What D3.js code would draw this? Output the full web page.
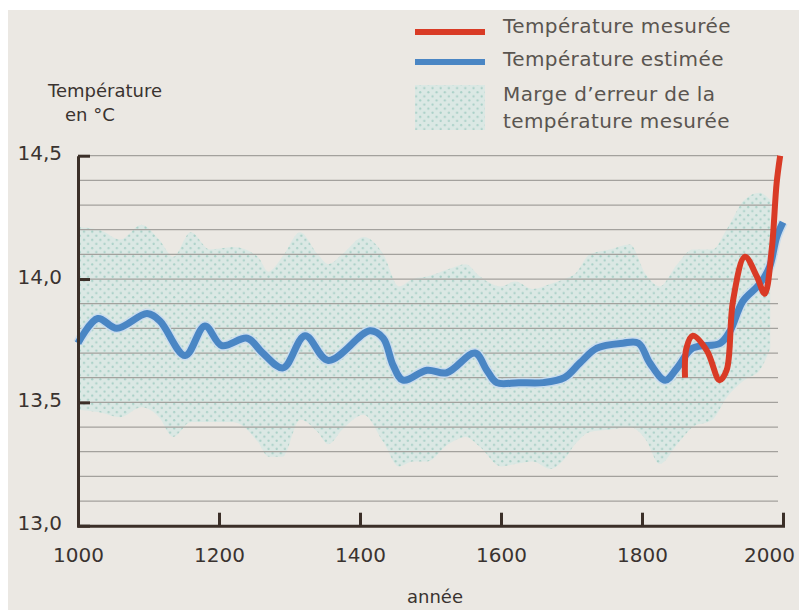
<!DOCTYPE html>
<html>
<head>
<meta charset="utf-8">
<script src="https://cdn.jsdelivr.net/npm/d3@7"></script>
<style>
  body { margin: 0; background: #fff; }
  svg { display: block; font-family: "DejaVu Sans", sans-serif; }
</style>
</head>
<body>
<script>
// estimated temperature (blue line)
const estYears = [1000, 1028, 1055, 1098, 1116, 1152, 1180, 1204, 1240, 1262, 1291, 1322, 1355, 1414, 1433, 1447, 1461, 1495, 1523, 1563, 1580, 1594, 1625, 1660, 1690, 1712, 1736, 1773, 1795, 1811, 1833, 1850, 1872, 1911, 1925, 1943, 1967, 1981, 1991, 2000];
const estTemps = [13.74, 13.84, 13.80, 13.86, 13.83, 13.69, 13.81, 13.73, 13.76, 13.70, 13.64, 13.77, 13.67, 13.79, 13.76, 13.65, 13.59, 13.63, 13.62, 13.70, 13.63, 13.58, 13.58, 13.58, 13.60, 13.66, 13.72, 13.74, 13.74, 13.66, 13.59, 13.64, 13.72, 13.74, 13.79, 13.91, 13.98, 14.05, 14.17, 14.23];

// measured temperature (red line)
const mesYears = [1861, 1863, 1872, 1892, 1910, 1920, 1929, 1946, 1963, 1974, 1984, 1991, 1996];
const mesTemps = [13.60, 13.72, 13.77, 13.71, 13.59, 13.63, 13.91, 14.09, 14.01, 13.94, 14.12, 14.39, 14.50];

// error margin (dotted band)
const bandYears = [1000, 1030, 1060, 1090, 1115, 1135, 1160, 1187, 1220, 1255, 1270, 1290, 1315, 1340, 1355, 1375, 1405, 1433, 1455, 1475, 1495, 1525, 1550, 1570, 1600, 1620, 1645, 1670, 1690, 1705, 1726, 1755, 1783, 1805, 1825, 1850, 1872, 1900, 1920, 1945, 1967, 1982];
const bandUpper = [14.21, 14.20, 14.16, 14.22, 14.16, 14.09, 14.19, 14.12, 14.13, 14.09, 14.03, 14.09, 14.19, 14.10, 14.06, 14.10, 14.17, 14.10, 13.97, 14.00, 14.01, 14.04, 14.06, 14.01, 13.97, 13.99, 13.96, 13.98, 14.00, 14.02, 14.10, 14.12, 14.14, 14.02, 13.97, 14.06, 14.12, 14.12, 14.20, 14.32, 14.35, 14.32];
const bandLower = [13.47, 13.46, 13.44, 13.48, 13.44, 13.36, 13.42, 13.42, 13.42, 13.34, 13.28, 13.28, 13.43, 13.38, 13.33, 13.39, 13.45, 13.34, 13.24, 13.26, 13.26, 13.33, 13.36, 13.32, 13.24, 13.25, 13.26, 13.23, 13.27, 13.33, 13.38, 13.39, 13.40, 13.35, 13.25, 13.33, 13.40, 13.43, 13.52, 13.59, 13.63, 13.72];

const xTicks = [1000, 1200, 1400, 1600, 1800, 2000];
const yTicks = [13.0, 13.5, 14.0, 14.5];
const legendLabels = ["Température mesurée", "Température estimée", ["Marge d’erreur de la", "température mesurée"]];

const width = 799, height = 610;
const fr = d3.formatLocale({ decimal: ",", thousands: " ", grouping: [3], currency: ["", "€"] });
const fmt = fr.format(".1f");

const x = d3.scaleLinear().domain([1000, 2000]).range([78, 783]);
const y = d3.scaleLinear().domain([13, 14.5]).range([525.7, 155.7]);

const svg = d3.create('svg')
    .attr('width', width)
    .attr('height', height)
    .attr('viewBox', [0, 0, width, height]);

svg.append('rect')
    .attr('x', 8).attr('y', 10)
    .attr('width', width - 8).attr('height', height - 10)
    .attr('fill', '#ebe8e3');

const pat = svg.append('defs').append('pattern')
    .attr('id', 'dots')
    .attr('patternUnits', 'userSpaceOnUse')
    .attr('width', 8.2).attr('height', 8.2);
pat.append('rect').attr('width', 8.2).attr('height', 8.2).attr('fill', '#dbe8e4');
pat.append('circle').attr('cx', 2).attr('cy', 2).attr('r', 1.1).attr('fill', '#a9d0c7');
pat.append('circle').attr('cx', 6.1).attr('cy', 6.1).attr('r', 1.1).attr('fill', '#a9d0c7');

// band
const band = bandYears.map((d, i) => ({ year: d, hi: bandUpper[i], lo: bandLower[i] }));
svg.append('path')
    .datum(band)
    .attr('fill', 'url(#dots)')
    .attr('d', d3.area()
        .x(d => x(d.year))
        .y0(d => y(d.lo))
        .y1(d => y(d.hi))
        .curve(d3.curveMonotoneX));

// gridlines
const grid = d3.range(13.1, 14.55, 0.1);
svg.append('g')
    .attr('stroke', '#a3a19d')
    .attr('stroke-width', 1.2)
  .selectAll('line')
  .data(grid)
  .join('line')
    .attr('x1', x(1000) + 2)
    .attr('x2', x(2000) - 5)
    .attr('y1', d => y(d))
    .attr('y2', d => y(d));

// lines
const est = estYears.map((d, i) => ({ year: d, t: estTemps[i] }));
const mes = mesYears.map((d, i) => ({ year: d, t: mesTemps[i] }));
const line = d3.line().x(d => x(d.year)).y(d => y(d.t)).curve(d3.curveCatmullRom.alpha(0.5));

svg.append('path').datum(est)
    .attr('fill', 'none').attr('stroke', '#c9dced').attr('stroke-width', 10)
    .attr('stroke-linejoin', 'round').attr('d', line);
svg.append('path').datum(est)
    .attr('fill', 'none').attr('stroke', '#4a86c4').attr('stroke-width', 7)
    .attr('stroke-linejoin', 'round').attr('d', line);
svg.append('path').datum(mes)
    .attr('fill', 'none').attr('stroke', '#d93b26').attr('stroke-width', 6)
    .attr('stroke-linejoin', 'round').attr('d', line);

// axes
const axisColor = '#3b2f28';
const gx = svg.append('g')
    .attr('transform', `translate(0,${y(13)})`)
    .call(d3.axisBottom(x).tickValues(xTicks).tickFormat(d3.format('d'))
        .tickSizeInner(-13).tickSizeOuter(0).tickPadding(22));
const gy = svg.append('g')
    .attr('transform', `translate(${x(1000)},0)`)
    .call(d3.axisLeft(y).tickValues(yTicks).tickFormat(fmt)
        .tickSizeInner(-12).tickSizeOuter(0).tickPadding(16));

[gx, gy].forEach(g => {
  g.select('.domain').attr('stroke', axisColor).attr('stroke-width', 3);
  g.selectAll('.tick line').attr('stroke', axisColor).attr('stroke-width', 3);
  g.selectAll('.tick text')
      .attr('fill', '#3a3330')
      .attr('font-family', '"DejaVu Sans", sans-serif')
      .attr('font-size', 20);
});
gx.select('.domain').attr('stroke-linecap', 'square');
// last year label sits inside the frame
gx.selectAll('.tick text').filter(d => d === 2000).attr('dx', -14);
gy.selectAll('.tick text').attr('dy', '0.2em');

// titles
const title = svg.append('g').attr('fill', '#3a3330').attr('font-size', 18);
title.append('text').attr('x', 48).attr('y', 97).text('Température');
title.append('text').attr('x', 65).attr('y', 121).text('en °C');
svg.append('text').attr('x', 407).attr('y', 603)
    .attr('fill', '#3a3330').attr('font-size', 18).text('année');

// legend
const lg = svg.append('g').attr('fill', '#5a5550').attr('font-size', 20).attr('letter-spacing', 0.4);
lg.append('line').attr('x1', 415).attr('x2', 485).attr('y1', 32).attr('y2', 32)
    .attr('stroke', '#d93b26').attr('stroke-width', 6);
lg.append('line').attr('x1', 415).attr('x2', 485).attr('y1', 62).attr('y2', 62)
    .attr('stroke', '#4a86c4').attr('stroke-width', 6);
lg.append('rect').attr('x', 415).attr('y', 85).attr('width', 70).attr('height', 45)
    .attr('fill', 'url(#dots)');
lg.append('text').attr('x', 503).attr('y', 33).text(legendLabels[0]);
lg.append('text').attr('x', 503).attr('y', 66).text(legendLabels[1]);
lg.append('text').attr('x', 503).attr('y', 101).text(legendLabels[2][0]);
lg.append('text').attr('x', 503).attr('y', 128).text(legendLabels[2][1]);

document.body.append(svg.node());
</script>
</body>
</html>
